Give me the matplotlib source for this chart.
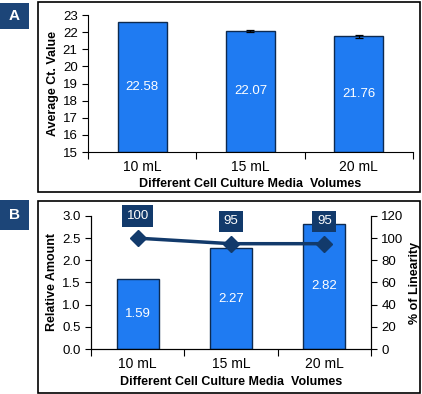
import numpy as np
import matplotlib.pyplot as plt
from matplotlib.patches import Rectangle

volumes = ["10 mL", "15 mL", "20 mL"]
ct_values = [22.58, 22.07, 21.76]
ct_errors = [0.0, 0.06, 0.08]
rel_amount = [1.59, 2.27, 2.82]
linearity = [100, 95, 95]

bar_blue = "#1f7bf2"
navy = "#123a6b"
edge = "#0d2a50"

plt.rcParams['font.family'] = ['Liberation Sans', 'DejaVu Sans']
plt.rcParams['font.size'] = 9

fig = plt.figure(figsize=(4.22, 3.94), dpi=100)

# panel frames and letter boxes
for y0, h in [(0.5127, 0.4823), (0.0025, 0.4873)]:
    fig.patches.append(Rectangle((0.090, y0), 0.905, h, transform=fig.transFigure,
                                 fill=False, edgecolor="black", linewidth=1.2))
for y0, h, letter in [(0.926, 0.066, "A"), (0.416, 0.076, "B")]:
    fig.patches.append(Rectangle((0.0, y0), 0.0687, h, transform=fig.transFigure,
                                 facecolor="#1c4578", edgecolor="none"))
    fig.text(0.0343, y0 + h / 2, letter, color="white", fontweight="bold",
             fontsize=11, ha="center", va="center")

x = np.arange(len(volumes))

# panel A
ax1 = fig.add_axes([0.2085, 0.6142, 0.770, 0.3477])
ax1.bar(x, [v - 15 for v in ct_values], bottom=15, width=0.45, color=bar_blue,
        edgecolor=edge, linewidth=1.0, zorder=2)
has_err = [i for i, e in enumerate(ct_errors) if e > 0]
ax1.errorbar([x[i] for i in has_err], [ct_values[i] for i in has_err],
             yerr=[ct_errors[i] for i in has_err], fmt="none", ecolor="black",
             elinewidth=0.9, capsize=3, capthick=0.9, zorder=3)
for xi, v in zip(x, ct_values):
    ax1.text(xi, (15 + v) / 2, f"{v:.2f}", color="white", ha="center",
             va="center", fontsize=9.5)
ax1.set_ylim(15, 23)
ax1.set_yticks(range(15, 24))
ax1.set_xlim(-0.5, 2.5)
ax1.set_xticks([-0.5, 0.5, 1.5, 2.5])
ax1.set_xticklabels([])
ax1.tick_params(axis="x", length=5, direction="out")
ax1.tick_params(axis="y", length=4, direction="out", labelsize=9.5)
for xi, lab in zip(x, volumes):
    ax1.text(xi, -0.11, lab, transform=ax1.get_xaxis_transform(),
             ha="center", va="center", fontsize=10)
ax1.text(0.5, -0.23, "Different Cell Culture Media  Volumes", transform=ax1.transAxes,
         ha="center", va="center", fontweight="bold", fontsize=9)
ax1.set_ylabel("Average Ct. Value", fontweight="bold", fontsize=9, labelpad=3)
ax1.spines["top"].set_visible(False)
ax1.spines["right"].set_visible(False)

# panel B
ax2 = fig.add_axes([0.2156, 0.1142, 0.6635, 0.3376])
ax2.bar(x, rel_amount, width=0.45, color=bar_blue, edgecolor=edge,
        linewidth=1.0, zorder=2)
for xi, v in zip(x, rel_amount):
    ax2.text(xi, v / 2, f"{v:.2f}", color="white", ha="center",
             va="center", fontsize=9.5)
ax2.set_ylim(0, 3.0)
ax2.set_yticks(np.arange(0, 3.01, 0.5))
ax2.set_yticklabels([f"{t:.1f}" for t in np.arange(0, 3.01, 0.5)])
ax2.set_xlim(-0.5, 2.5)
ax2.set_xticks([-0.5, 0.5, 1.5, 2.5])
ax2.set_xticklabels([])
ax2.tick_params(axis="x", length=5, direction="out")
ax2.tick_params(axis="y", length=4, direction="out", labelsize=9.5)
for xi, lab in zip(x, volumes):
    ax2.text(xi, -0.115, lab, transform=ax2.get_xaxis_transform(),
             ha="center", va="center", fontsize=10)
ax2.text(0.5, -0.245, "Different Cell Culture Media  Volumes", transform=ax2.transAxes,
         ha="center", va="center", fontweight="bold", fontsize=9)
ax2.set_ylabel("Relative Amount", fontweight="bold", fontsize=9, labelpad=3)
ax2.spines["top"].set_visible(False)

ax3 = ax2.twinx()
ax3.plot(x, linearity, color=navy, linewidth=2.5, marker="D", markersize=8,
         zorder=4)
for xi, v in zip(x, linearity):
    ax3.annotate(str(v), (xi, v), xytext=(0, 16), textcoords="offset points",
                 ha="center", va="center", color="white", fontsize=9.5,
                 bbox=dict(boxstyle="square,pad=0.35", facecolor=navy, edgecolor="none"))
ax3.set_ylim(0, 120)
ax3.set_yticks(range(0, 121, 20))
ax3.tick_params(axis="y", length=4, direction="out", labelsize=9.5)
ax3.set_ylabel("% of Linearity", fontweight="bold", fontsize=9, labelpad=4)
ax3.spines["top"].set_visible(False)

fig.savefig("out.png", dpi=100)
